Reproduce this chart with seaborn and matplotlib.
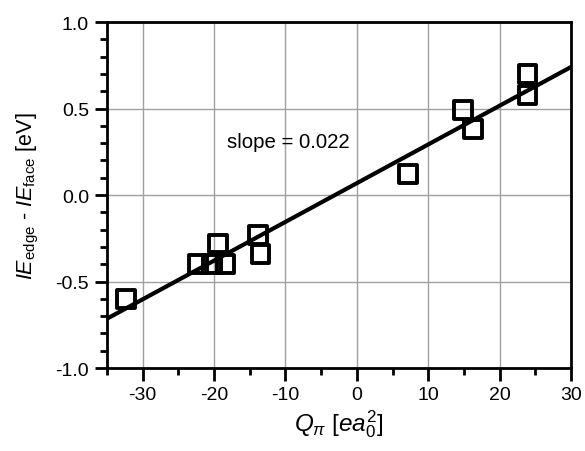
import numpy as np
import pandas as pd
import matplotlib
matplotlib.use("Agg")
import matplotlib.pyplot as plt
import seaborn as sns
from matplotlib.ticker import MultipleLocator

q_pi = [-32.3, -22.2, -20.3, -18.4, -19.4, -13.8, -13.5, 7.2, 14.9, 16.3, 23.9, 23.9]
delta_ie = [-0.60, -0.40, -0.40, -0.40, -0.28, -0.23, -0.34, 0.12, 0.49, 0.38, 0.70, 0.58]
x_ticks = [-30, -20, -10, 0, 10, 20, 30]
y_ticks = [-1.0, -0.5, 0.0, 0.5, 1.0]

df = pd.DataFrame({"q": q_pi, "ie": delta_ie})

sns.set_style("ticks")
plt.rcParams["font.family"] = ["Liberation Sans", "DejaVu Sans"]
plt.rcParams["mathtext.fontset"] = "custom"
plt.rcParams["mathtext.rm"] = "Liberation Sans"
plt.rcParams["mathtext.it"] = "Liberation Sans:italic"
plt.rcParams["mathtext.bf"] = "Liberation Sans:bold"
plt.rcParams["axes.unicode_minus"] = False
plt.rcParams["text.color"] = "black"
plt.rcParams["axes.labelcolor"] = "black"

fig = plt.figure(figsize=(5.85, 4.52), dpi=100)
ax = fig.add_axes([0.183, 0.1836, 0.793, 0.7655])
ax.set_xlim(-35, 30)
ax.set_ylim(-1.0, 1.0)

sns.regplot(data=df, x="q", y="ie", ax=ax, ci=None, truncate=False,
            marker="s",
            scatter_kws=dict(s=165, facecolors="none", edgecolors="black",
                             linewidths=2.8, alpha=1, zorder=3),
            line_kws=dict(color="black", lw=3, zorder=4))

ax.set_xlim(-35, 30)
ax.set_ylim(-1.0, 1.0)
ax.set_xticks(x_ticks)
ax.set_yticks(y_ticks)
ax.set_yticklabels([f"{v:.1f}" for v in y_ticks])
ax.xaxis.set_minor_locator(MultipleLocator(5))
ax.yaxis.set_minor_locator(MultipleLocator(0.1))
ax.grid(True, which="major", color="#a0a0a0", lw=1)
ax.set_axisbelow(True)
for s in ax.spines.values():
    s.set_visible(True)
    s.set_linewidth(2)
    s.set_color("black")
ax.tick_params(which="major", direction="out", length=9, width=2, labelsize=14,
               colors="black", pad=4)
ax.tick_params(which="minor", direction="out", length=5, width=2, colors="black")

ax.set_xlabel(r"$Q_{\pi}$ [$ea_0^2$]", fontsize=17.5, labelpad=3)
ax.set_ylabel(r"$IE_{\mathrm{edge}}$ - $IE_{\mathrm{face}}$ [eV]", fontsize=15.5, labelpad=10)
ax.text(-9.6, 0.31, "slope = 0.022", fontsize=14.7, ha="center", va="center")

fig.savefig("out.png", dpi=100)
